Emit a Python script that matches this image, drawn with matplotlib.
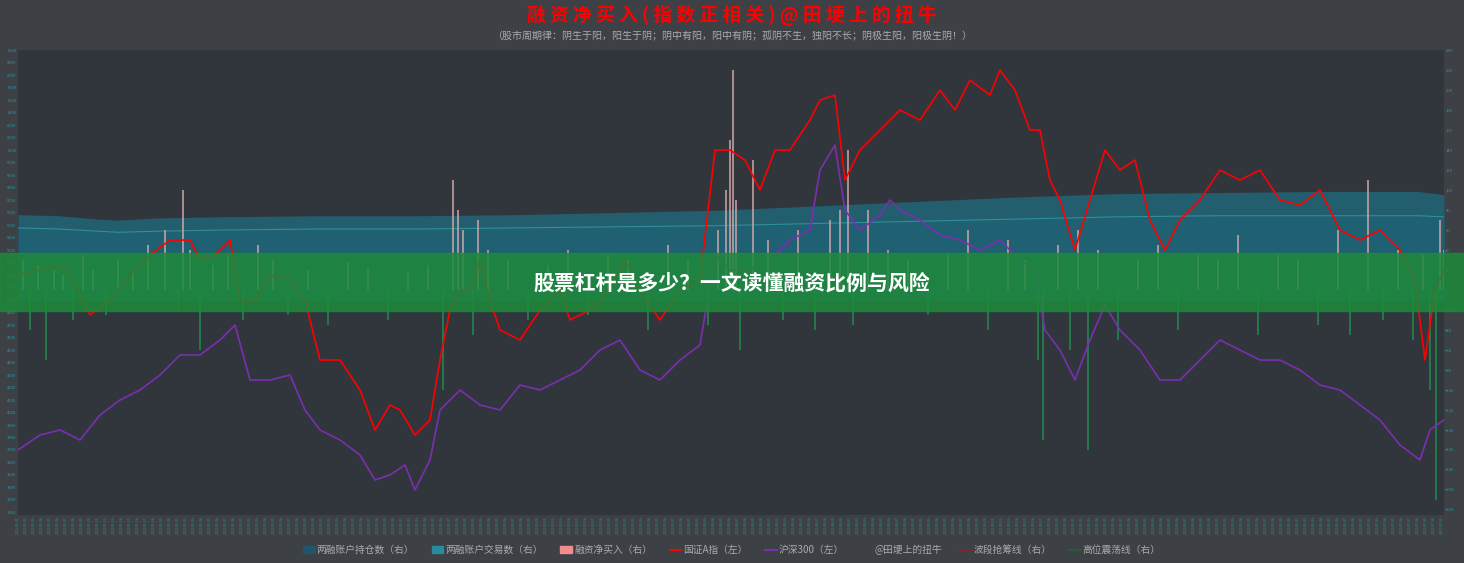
import matplotlib
matplotlib.use("Agg")
import matplotlib.pyplot as plt
from matplotlib.lines import Line2D
from matplotlib.patches import Patch

plt.rcParams['font.family'] = ['Noto Sans CJK SC', 'DejaVu Sans']

# ---- data ----
red_t = [0,22,42,52,72,92,112,132,152,172,182,197,212,222,237,252,272,287,302,322,342,357,372,382,397,412,422,432,442,452,462,472,482,502,522,542,552,572,592,607,622,642,662,682,697,712,727,742,757,772,792,802,817,827,842,862,882,902,922,937,952,972,982,997,1012,1022,1032,1042,1057,1072,1087,1102,1117,1132,1147,1162,1182,1202,1222,1242,1262,1282,1302,1322,1342,1362,1382,1397,1407,1417,1426]
red_v = [5100,5140,5180,5100,4780,4900,5100,5260,5380,5380,5220,5260,5380,4900,4900,5100,5060,4900,4420,4420,4180,3860,4060,4020,3820,3940,4420,4820,4980,4980,5220,4900,4660,4580,4820,4980,4740,4820,4980,5220,4980,4740,4980,5060,6100,6100,6020,5780,6100,6100,6340,6500,6540,5860,6100,6260,6420,6340,6580,6420,6660,6540,6740,6580,6260,6260,5860,5700,5300,5700,6100,5940,6020,5540,5300,5540,5700,5940,5860,5940,5700,5660,5780,5460,5380,5460,5300,5060,4420,4980,5140]
pur_t = [0,22,42,62,82,102,122,142,162,182,202,217,232,252,272,287,302,322,342,357,372,387,397,412,422,442,462,482,502,522,542,562,582,602,622,642,662,682,697,712,732,752,772,792,802,817,827,842,862,872,882,902,922,942,962,982,1002,1017,1027,1042,1057,1072,1087,1102,1122,1142,1162,1182,1202,1222,1242,1262,1282,1302,1322,1342,1362,1382,1402,1412,1426]
pur_v = [3700,3820,3860,3780,3980,4100,4180,4300,4460,4460,4580,4700,4260,4260,4300,4020,3860,3780,3660,3460,3500,3580,3380,3620,4020,4180,4060,4020,4220,4180,4260,4340,4500,4580,4340,4260,4420,4540,5260,5140,5140,5220,5380,5460,5940,6140,5620,5460,5580,5700,5620,5540,5420,5380,5300,5380,5220,5140,4660,4500,4260,4580,4860,4660,4500,4260,4260,4420,4580,4500,4420,4420,4340,4220,4180,4060,3940,3740,3620,3860,3940]
acct_t = [0,40,80,100,140,200,300,400,500,600,700,800,900,1000,1100,1200,1300,1400,1426]
acct_hold = [78,77,74,73,75,76,77,77,78,80,82,86,90,94,97,98,99,99,96]
acct_trade = [66,65,63,62,63,64,65,65,66,67,68,70,72,74,76,77,77,77,76]
bar_t = [5,12,20,28,36,45,55,65,75,88,100,115,130,147,160,165,172,182,195,210,225,240,255,270,290,310,330,350,370,390,410,425,435,440,445,455,460,470,490,510,530,550,570,590,610,630,650,670,690,700,708,712,715,718,722,735,750,765,780,797,812,822,830,835,850,870,890,910,930,950,970,990,1007,1020,1025,1040,1052,1060,1070,1080,1100,1120,1140,1160,1180,1200,1220,1240,1260,1280,1300,1320,1332,1350,1365,1380,1395,1405,1412,1418,1422,1426]
bar_v = [30,-40,25,-70,20,15,-30,35,20,-25,30,18,45,60,-20,100,40,-60,25,35,-30,45,30,-25,20,-35,28,22,-30,18,25,-100,110,80,60,-45,70,40,30,-30,25,40,-25,35,30,-40,45,30,-35,60,100,150,220,90,-60,130,50,-30,60,-40,70,80,140,-35,80,40,30,-25,35,60,-40,50,30,-70,-150,45,-60,60,-160,40,-50,30,45,-40,35,30,55,-45,35,30,-35,60,-45,110,-30,40,-50,35,-100,-210,70,40]

title = "融 资 净 买 入 ( 指 数 正 相 关 ) @ 田 埂 上 的 扭 牛"
subtitle = "（股市周期律：阴生于阳，阳生于阴；阴中有阳，阳中有阴；孤阴不生，独阳不长；阴极生阳，阳极生阴！）"
banner = "股票杠杆是多少？一文读懂融资比例与风险"
legend_labels = ["两融账户持仓数（右）","两融账户交易数（右）","融资净买入（右）","国证A指（左）","沪深300（左）","@田埂上的扭牛","波段抢筹线（右）","高位震荡线（右）"]
left_ticks = list(range(3200, 7000, 100))

fig = plt.figure(figsize=(14.64, 5.63), dpi=100, facecolor='#3d4146')
ax3 = fig.add_axes([0.0123, 0.0853, 0.974, 0.8257])
ax3.set_facecolor('#31363d')
ax2 = ax3.twinx()
ax = ax3.twinx()
ax2.patch.set_visible(False); ax.patch.set_visible(False)

# accounts
ax3.fill_between(acct_t, 0, acct_hold, color='#235e6e', lw=0)
ax3.fill_between(acct_t, 0, acct_trade, color='#1f6072', lw=0)
ax3.plot(acct_t, acct_trade, color='#2f8f9a', lw=0.8)
ax3.set_ylim(-194, 227)
ax3.set_yticks([])
ax3.set_xlim(0, 1426)

# bars
cols = ['#c9a3a3' if v > 0 else '#1f8a4c' for v in bar_v]
ax2.bar(bar_t, bar_v, width=1.6, color=cols, alpha=0.8)
ax2.set_ylim(-225, 240)
ax2.yaxis.tick_right()
ax2.set_yticks(list(range(-220, 241, 20)))
ax2.tick_params(axis='y', colors='#1f9aa0', labelsize=3, length=0, pad=1)

ax.plot(pur_t, pur_v, color='#7b2fb0', lw=1.2)
ax.plot(red_t, red_v, color='#ff0000', lw=1.2)
ax.set_ylim(3180, 6900)
ax.set_xlim(0, 1426)
ax.yaxis.tick_left()
ax.set_yticks(left_ticks)
ax.tick_params(axis='y', colors='#1f9aa0', labelsize=3, length=0, pad=1)
xt = list(range(0, 1427, 8))
ax3.set_xticks(xt)
ax3.set_xticklabels(['2015-%02d-%02d' % (1 + (i // 28) % 12, 1 + i % 28) for i in range(len(xt))], rotation=90, fontsize=2.5, color='#1f9aa0')
ax3.tick_params(axis='x', length=0, pad=1)
for a in (ax, ax2, ax3):
    for s in a.spines.values():
        s.set_visible(False)

# banner
fig.patches.append(plt.Rectangle((0, (563-311)/563), 1, 58/563, transform=fig.transFigure, color='#1e8a3a', alpha=0.85, zorder=10))
fig.text(0.5, (563-283)/563, banner, ha='center', va='center', color='white', fontsize=15, fontweight='bold', zorder=11)

fig.text(0.5, 1-15/563, title, ha='center', va='center', color='#ff0000', fontsize=13.5, fontweight='bold')
fig.text(0.5, 1-36/563, subtitle, ha='center', va='center', color='#aaaaaa', fontsize=7.2)

handles = [Patch(color='#21566a'), Patch(color='#2a8a9e'), Patch(color='#f08c8c'),
           Line2D([], [], color='#ff0000'), Line2D([], [], color='#7b2fb0'),
           Line2D([], [], color='none'), Line2D([], [], color='#7a2a2a'), Line2D([], [], color='#2a5a3a')]
fig.legend(handles, legend_labels, loc='center', bbox_to_anchor=(0.5, 1-550/563), ncol=8, frameon=False,
           fontsize=7, labelcolor='#aaaaaa', handlelength=1.2, columnspacing=1.8, handletextpad=0.2)

fig.savefig('out.png', dpi=100, facecolor=fig.get_facecolor())
